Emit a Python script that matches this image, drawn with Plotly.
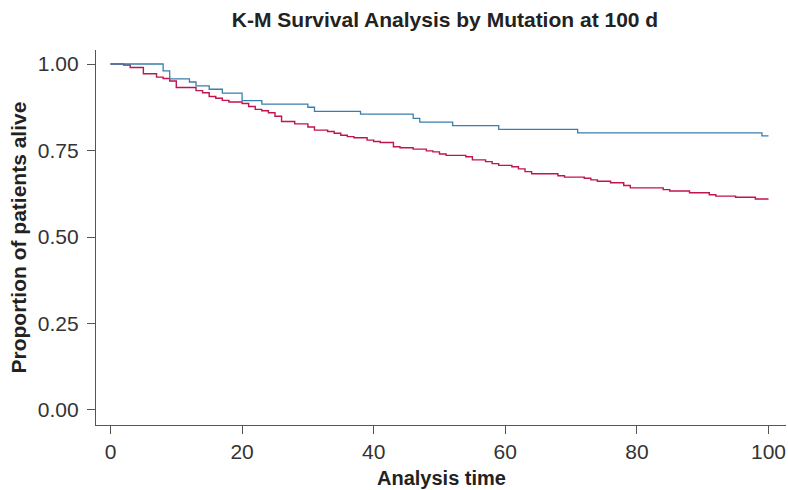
import plotly.graph_objects as go

# Kaplan-Meier step data
blue_time = [0, 8, 9, 12, 13, 15, 17, 20, 23, 30, 31, 38, 46, 47, 52, 59, 71, 99, 100]
blue_surv = [1.0, 0.980, 0.957, 0.948, 0.937, 0.927, 0.916, 0.894, 0.884, 0.875,
             0.863, 0.855, 0.843, 0.832, 0.822, 0.811, 0.801, 0.792, 0.792]

red_time = [0, 2, 3, 5, 7, 8, 9, 10, 13, 14,
            15, 16, 17, 18, 20, 21, 22, 23, 24, 25,
            26, 28, 30, 31, 33, 34, 35, 36, 37, 39,
            40, 41, 43, 44, 46, 48, 49, 50, 51, 54,
            55, 57, 58, 59, 61, 62, 63, 64, 68, 69,
            72, 73, 74, 76, 78, 79, 84, 85, 88, 91,
            92, 95, 98, 100]
red_surv = [1.0, 0.997, 0.990, 0.972, 0.962, 0.958, 0.951, 0.932, 0.923, 0.917,
            0.906, 0.901, 0.895, 0.890, 0.886, 0.877, 0.869, 0.865, 0.859, 0.849,
            0.834, 0.827, 0.818, 0.809, 0.805, 0.800, 0.794, 0.790, 0.787, 0.780,
            0.776, 0.773, 0.761, 0.758, 0.754, 0.749, 0.746, 0.740, 0.736, 0.732,
            0.723, 0.718, 0.712, 0.707, 0.703, 0.697, 0.689, 0.683, 0.677, 0.673,
            0.670, 0.665, 0.661, 0.657, 0.649, 0.642, 0.637, 0.633, 0.628, 0.622,
            0.618, 0.615, 0.610, 0.610]

x_ticks = [0, 20, 40, 60, 80, 100]
y_ticks = [0.0, 0.25, 0.5, 0.75, 1.0]
y_tick_text = ["0.00", "0.25", "0.50", "0.75", "1.00"]

FONT = "Liberation Sans, Arial, sans-serif"
W, H = 788, 490

fig = go.Figure()
fig.add_trace(go.Scatter(x=red_time, y=red_surv, mode="lines", line_shape="hv",
                         line=dict(color="#c1134f", width=1.4), showlegend=False))
fig.add_trace(go.Scatter(x=blue_time, y=blue_surv, mode="lines", line_shape="hv",
                         line=dict(color="#3a7fab", width=1.3), showlegend=False))

fig.update_layout(
    width=W, height=H,
    margin=dict(l=96, r=2, t=50, b=65, autoexpand=False),
    paper_bgcolor="white", plot_bgcolor="white",
    font=dict(family=FONT, color="#333333", size=21),
    title=dict(text="<b>K-M Survival Analysis by Mutation at 100 d</b>",
               x=445 / W, xref="container", y=1 - 20 / H, yref="container",
               xanchor="center", yanchor="middle",
               font=dict(family=FONT, size=21, color="#222222")),
    annotations=[
        dict(text="<b>Proportion of patients alive</b>", x=0, xref="paper",
             y=0.5, yref="paper", xshift=-78, textangle=-90,
             xanchor="center", yanchor="middle", showarrow=False,
             font=dict(family=FONT, size=21, color="#222222")),
        dict(text="<b>Analysis time</b>", x=0.5, xref="paper", y=0, yref="paper",
             yshift=-53, xanchor="center", yanchor="middle", showarrow=False,
             font=dict(family=FONT, size=20, color="#222222")),
    ],
)
fig.update_xaxes(
    range=[-2.2, 102.66], tickvals=x_ticks, ticks="outside", ticklen=8,
    tickwidth=1.2, tickcolor="#555555", showline=True, linecolor="#555555",
    linewidth=1.3, showgrid=False, zeroline=False, automargin=False,
    tickfont=dict(size=21, color="#333333"),
)
fig.update_yaxes(
    range=[-0.0434, 1.0405], tickvals=y_ticks, ticktext=y_tick_text, ticks="outside",
    ticklen=8, tickwidth=1.2, tickcolor="#555555", showline=True,
    linecolor="#555555", linewidth=1.3, showgrid=False, zeroline=False,
    automargin=False, ticklabelstandoff=4,
    tickfont=dict(size=21, color="#333333"),
)

fig.write_html(
    "out.html",
    config={"displayModeBar": False},
    post_script="document.body.style.margin='0';document.body.style.overflow='hidden';",
)
